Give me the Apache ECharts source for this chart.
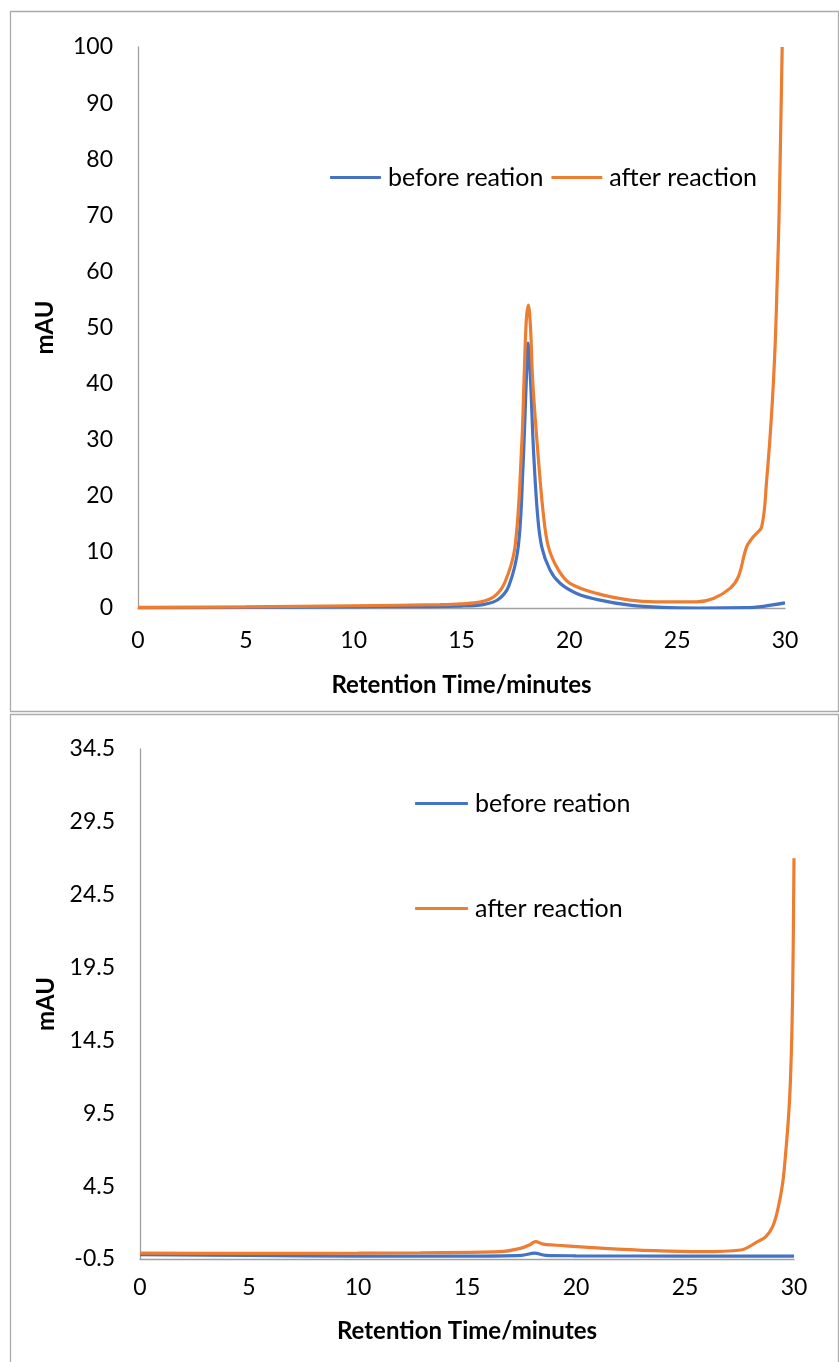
<!DOCTYPE html>
<html>
<head>
<meta charset="utf-8">
<script src="https://cdn.jsdelivr.net/npm/echarts@6/dist/echarts.min.js"></script>
<style>
  html, body { margin: 0; padding: 0; background: #fff; }
  #chart { width: 839px; height: 1362px; }
</style>
</head>
<body>
<div id="chart"></div>
<script>
// Chromatograms: [retention time (min), absorbance (mAU)]
const beforeTop = [
  [0, 0.0], [5, 0.1], [10, 0.2], [15, 0.35], [16, 0.6], [16.7, 1.5], [17.2, 4.0],
  [17.63, 10.9], [17.85, 25], [18.0, 40], [18.08, 47.2], [18.2, 40.6], [18.33, 28.8],
  [18.52, 16.9], [18.72, 10.9], [19.1, 6.8], [19.57, 4.4], [20.34, 2.6], [21.42, 1.4],
  [22.8, 0.5], [24.3, 0.1], [26, 0.0], [28.2, 0.05], [29, 0.3], [30, 0.9]
];
const afterTop = [
  [0, 0.1], [5, 0.2], [10, 0.4], [14, 0.6], [15, 0.75], [15.9, 1.1], [16.5, 2.0], [17.0, 4.5],
  [17.48, 10.9], [17.79, 28.8], [17.9, 40.6], [18.0, 51], [18.1, 54.0], [18.2, 50],
  [18.3, 40.6], [18.52, 28.8], [18.79, 16.9], [19.03, 10.9], [19.49, 6.8], [20.03, 4.4],
  [21.27, 2.6], [22.81, 1.4], [24, 1.1], [25.9, 1.1], [26.68, 1.7], [27.45, 3.5],
  [27.84, 5.6], [28.22, 10.9], [28.53, 12.7], [28.92, 14.5], [29.15, 22.8], [29.38, 34.7],
  [29.54, 46.6], [29.64, 58.5], [29.72, 69.2], [29.87, 100]
];
const beforeBottom = [
  [0, -0.2], [5, -0.25], [10, -0.3], [15, -0.3], [17.5, -0.25], [18.1, -0.1],
  [18.6, -0.25], [20, -0.28], [25, -0.3], [30, -0.3]
];
const afterBottom = [
  [0, -0.1], [5, -0.12], [10, -0.1], [12.86, -0.07], [16.5, 0.0], [17.45, 0.23],
  [17.9, 0.5], [18.14, 0.69], [18.5, 0.52], [18.99, 0.46], [21.3, 0.23], [23.6, 0.07],
  [25.7, 0.0], [27.56, 0.12], [28.33, 0.69], [28.71, 1.03], [29.02, 1.72], [29.25, 2.86],
  [29.48, 4.7], [29.63, 6.98], [29.75, 9.27], [29.83, 11.5], [29.91, 15.5], [29.96, 20.5],
  [30.0, 27.0]
];

const seriesNames = ['before reation', 'after reaction'];
const xTitle = 'Retention Time/minutes';
const yTitle = 'mAU';
const topRange = { min: 0, max: 100, interval: 10 };
const bottomRange = { min: -0.5, max: 34.5, interval: 5 };

const BLUE = '#4472C4';
const ORANGE = '#ED7D31';
const FONT = 'Lato, "Open Sans", sans-serif';

const chart = echarts.init(document.getElementById('chart'), null, { renderer: 'canvas' });

function xAxisFor(gridIndex, labelMargin, nameGap) {
  return {
    type: 'value', gridIndex, min: 0, max: 30, interval: 5,
    axisLine: { show: true, onZero: false, lineStyle: { color: '#a0a0a0', width: 1.3 } },
    axisTick: { show: false },
    splitLine: { show: false },
    axisLabel: { color: '#000', fontSize: 23, fontFamily: FONT, margin: labelMargin },
    name: xTitle, nameLocation: 'middle', nameGap,
    nameTextStyle: { color: '#000', fontSize: 24, fontWeight: 'bold', fontFamily: FONT }
  };
}
function yAxisFor(gridIndex, range, fmt) {
  return {
    type: 'value', gridIndex, min: range.min, max: range.max, interval: range.interval,
    axisLine: { show: true, lineStyle: { color: '#a0a0a0', width: 1.3 } },
    axisTick: { show: false },
    splitLine: { show: false },
    axisLabel: { color: '#000', fontSize: 23, fontFamily: FONT, margin: 25, formatter: fmt },
    name: yTitle, nameLocation: 'middle', nameGap: 81,
    nameTextStyle: { color: '#000', fontSize: 24, fontWeight: 'bold', fontFamily: FONT }
  };
}
function line(name, data, color, idx) {
  return {
    name, type: 'line', data, xAxisIndex: idx, yAxisIndex: idx,
    smooth: 0.35, showSymbol: false, symbol: 'none', clip: true,
    lineStyle: { color, width: 3.2 }, itemStyle: { color }
  };
}

chart.setOption({
  animation: false,
  backgroundColor: '#fff',
  graphic: [
    { type: 'rect', shape: { x: 10.5, y: 11.5, width: 828, height: 700 },
      style: { fill: 'none', stroke: '#ababab', lineWidth: 1.3 }, z: 100 },
    { type: 'rect', shape: { x: 10.5, y: 714.5, width: 828, height: 700 },
      style: { fill: 'none', stroke: '#ababab', lineWidth: 1.3 }, z: 100 }
  ],
  grid: [
    { left: 138, top: 47, width: 647, height: 561 },
    { left: 140, top: 749, width: 654, height: 510 }
  ],
  xAxis: [xAxisFor(0, 21, 65), xAxisFor(1, 17, 60)],
  yAxis: [
    yAxisFor(0, topRange, v => String(Math.round(v))),
    yAxisFor(1, bottomRange, v => v.toFixed(1))
  ],
  legend: [
    { data: seriesNames, left: 325, top: 160, orient: 'horizontal',
      icon: 'roundRect', itemWidth: 51, itemHeight: 3, itemGap: 8,
      textStyle: { color: '#000', fontSize: 25, fontFamily: FONT, padding: [0, 0, 0, 2] } },
    { data: seriesNames, left: 410, top: 786, orient: 'vertical',
      icon: 'roundRect', itemWidth: 53, itemHeight: 3, itemGap: 80,
      textStyle: { color: '#000', fontSize: 25, fontFamily: FONT, padding: [0, 0, 0, 2] } }
  ],
  series: [
    line(seriesNames[0], beforeTop, BLUE, 0),
    line(seriesNames[1], afterTop, ORANGE, 0),
    line(seriesNames[0], beforeBottom, BLUE, 1),
    line(seriesNames[1], afterBottom, ORANGE, 1)
  ]
});
</script>
</body>
</html>
